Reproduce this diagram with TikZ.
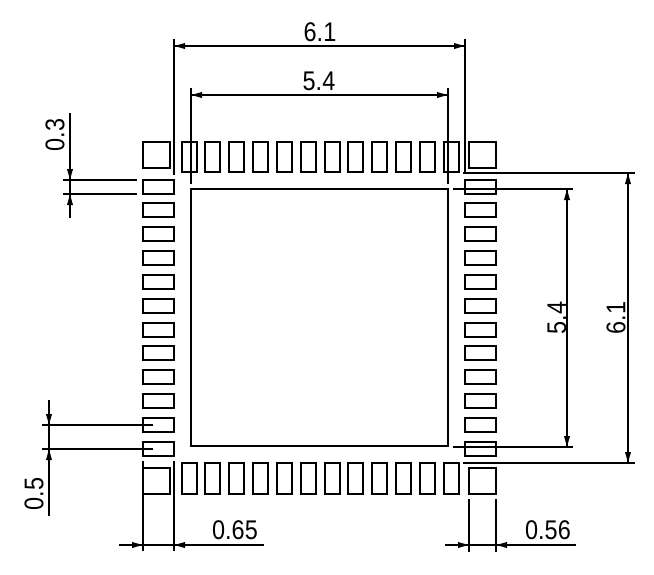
\documentclass[tikz,border=0pt]{standalone}
\usepackage{fontspec}
\newfontfamily\dimfont[FakeStretch=0.87]{Liberation Sans}
\usetikzlibrary{arrows.meta}
\tikzset{
  part/.style={draw,line width=1.8pt},
  dimline/.style={line width=1.8pt,{Triangle[length=11pt,width=5.5pt]}-{Triangle[length=11pt,width=5.5pt]},postaction={draw,-}},
  halfdim/.style={line width=1.8pt,-{Triangle[length=11pt,width=5.5pt]},postaction={draw,-}},
  dimlabel/.style={inner sep=0pt,font=\dimfont\fontsize{27}{27}\selectfont}
}
\begin{document}
\begin{tikzpicture}[x=1pt,y=-1pt]
\useasboundingbox (0,0) rectangle (654,574);
% package body and corner pads
\draw[part] (191,189) rectangle (448,446);
\draw[part] (143,142) rectangle (170,168);
\draw[part] (469,142) rectangle (496,168);
\draw[part] (143,468) rectangle (170,494);
\draw[part] (469,468) rectangle (496,494);
% pads
\foreach \i in {0,...,11}{
  \pgfmathsetmacro{\p}{round(181.5+23.85*\i)}
  \pgfmathsetmacro{\q}{round(179.5+23.85*\i)}
  \draw[part] (\p,142) rectangle (\p+15,172);
  \draw[part] (\p,463) rectangle (\p+15,494);
  \draw[part] (143,\q) rectangle (174,\q+14);
  \draw[part] (465,\q) rectangle (496,\q+14);
}
% top dimensions
\coordinate (TA) at (174,46);
\coordinate (TB) at (465,46);
\coordinate (TC) at (191,95);
\coordinate (TD) at (448,95);
\path[part] (174,39) -- (174,175);
\path[part] (465,39) -- (465,173);
\path[part] (191,88) -- (191,184);
\path[part] (448,88) -- (448,184);
\draw[dimline] (TA) -- (TB);
\draw[dimline] (TC) -- (TD);
\node[dimlabel] (L1) at (320,32) {6.1};
\node[dimlabel] (L2) at (319,81) {5.4};
% right dimensions
\coordinate (RA) at (628,173);
\coordinate (RB) at (628,463);
\coordinate (RC) at (567,189);
\coordinate (RD) at (567,447);
\path[part] (463,173) -- (635,173);
\path[part] (463,463) -- (635,463);
\path[part] (453,189) -- (573,189);
\path[part] (453,447) -- (573,447);
\draw[dimline] (RA) -- (RB);
\draw[dimline] (RC) -- (RD);
\node[dimlabel,rotate=90] (L3) at (616,318) {6.1};
\node[dimlabel,rotate=90] (L4) at (557,318) {5.4};
% left dimensions
\coordinate (SA) at (70,180);
\coordinate (SB) at (70,194);
\coordinate (SC) at (49,425);
\coordinate (SD) at (49,449);
\path[part] (63,180) -- (137,180);
\path[part] (63,194) -- (137,194);
\path[part] (42,425) -- (153,425);
\path[part] (42,449) -- (153,449);
\draw[halfdim] (70,113) -- (SA);
\draw[halfdim] (70,218) -- (SB);
\draw[part] (SA) -- (SB);
\draw[halfdim] (49,400) -- (SC);
\draw[halfdim] (49,516) -- (SD);
\draw[part] (SC) -- (SD);
\node[dimlabel,rotate=90] (L5) at (55,135) {0.3};
\node[dimlabel,rotate=90] (L6) at (34,494) {0.5};
% bottom dimensions
\coordinate (BA) at (143,545);
\coordinate (BB) at (174,545);
\coordinate (BC) at (469,545);
\coordinate (BD) at (496,545);
\path[part] (143,461) -- (143,551);
\path[part] (174,461) -- (174,551);
\path[part] (469,499) -- (469,552);
\path[part] (496,499) -- (496,552);
\draw[halfdim] (119,545) -- (BA);
\draw[halfdim] (264,545) -- (BB);
\draw[part] (BA) -- (BB);
\draw[halfdim] (445,545) -- (BC);
\draw[halfdim] (576,545) -- (BD);
\draw[part] (BC) -- (BD);
\node[dimlabel] (L7) at (235,530) {0.65};
\node[dimlabel] (L8) at (548,530) {0.56};
\end{tikzpicture}
\end{document}
